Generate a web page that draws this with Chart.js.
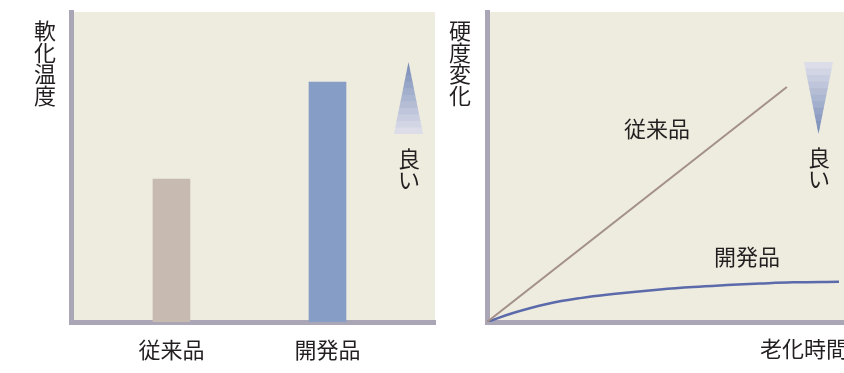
<!DOCTYPE html>
<html>
<head>
    <meta charset="utf-8" />
    <title>軟化温度・硬度変化</title>
    <script src="https://cdn.jsdelivr.net/npm/chart.js"></script>
    <style>
        html, body { margin: 0; padding: 0; background: #ffffff; }
        #wrap { position: relative; width: 844px; height: 373px; overflow: hidden; }
        #left { position: absolute; left: 0; top: 0; }
        #right { position: absolute; left: 440px; top: 0; }
    </style>
</head>
<body>
    <div id="wrap">
        <canvas id="left" width="440" height="373"></canvas>
        <canvas id="right" width="404" height="373"></canvas>
    </div>

    <script>
        // left: softening temperature bars
        const barCategories = ['従来品', '開発品'];
        const barPositions = [1, 2];
        const barValues = [46.1, 77.4];
        const barColors = ['#c7bbb1', '#869dc6'];

        // right: hardness change over ageing time
        const conventionalX = [0, 8.4];
        const conventionalY = [0, 75.8];
        const developedX = [0, 0.73, 1.68, 2.61, 3.53, 4.85, 5.77, 6.72, 7.65, 8.57, 9.86];
        const developedY = [0, 2.9, 5.8, 7.7, 9.0, 10.5, 11.3, 11.9, 12.4, 12.8, 13.0];

        const FONT = '"Noto Sans CJK JP", "Noto Sans", sans-serif';
        const TEXT = '#231f20';
        const BG = '#eeebdf';
        const AXIS = '#aaa6b6';
        const SIZE = 22;

        Chart.defaults.font.family = FONT;
        Chart.defaults.color = TEXT;

        function vtext(ctx, chars, x, y0, pitch) {
            ctx.save();
            ctx.font = SIZE + 'px ' + FONT;
            ctx.fillStyle = TEXT;
            ctx.textAlign = 'center';
            ctx.textBaseline = 'middle';
            chars.forEach((c, i) => ctx.fillText(c, x, y0 + i * pitch));
            ctx.restore();
        }

        // stepped blue wedge used as the "better" marker
        function wedge(ctx, cx, top, bottom, half, up) {
            const steps = 11;
            const dark = [122, 142, 184], light = [220, 221, 233];
            ctx.save();
            ctx.beginPath();
            if (up) {
                ctx.moveTo(cx, top); ctx.lineTo(cx + half, bottom); ctx.lineTo(cx - half, bottom);
            } else {
                ctx.moveTo(cx - half, top); ctx.lineTo(cx + half, top); ctx.lineTo(cx, bottom);
            }
            ctx.closePath();
            ctx.clip();
            const h = (bottom - top) / steps;
            for (let i = 0; i < steps; i++) {
                let t = i / (steps - 1);
                if (!up) t = 1 - t;
                const c = dark.map((d, k) => Math.round(d + (light[k] - d) * t));
                ctx.fillStyle = 'rgb(' + c.join(',') + ')';
                ctx.fillRect(cx - half - 1, top + i * h, half * 2 + 2, h + 1);
            }
            ctx.restore();
        }

        const background = {
            id: 'background',
            beforeDraw(chart) {
                const { ctx, chartArea: a } = chart;
                ctx.save();
                ctx.fillStyle = BG;
                ctx.fillRect(a.left, a.top, a.right - a.left, a.bottom - a.top);
                ctx.restore();
            }
        };

        const yAxis = {
            type: 'linear', min: 0, max: 100,
            ticks: { display: false },
            grid: { display: false, drawTicks: false },
            border: { display: true, width: 5, color: AXIS },
            afterFit(s) { s.width = 0; }
        };

        new Chart(document.getElementById('left'), {
            type: 'bar',
            data: {
                datasets: [{
                    data: barPositions.map((x, i) => ({ x: x, y: barValues[i] })),
                    backgroundColor: barColors,
                    barThickness: 37
                }]
            },
            options: {
                responsive: false,
                devicePixelRatio: 1,
                animation: false,
                layout: { padding: { left: 71, top: 12, right: 5, bottom: 0 } },
                plugins: { legend: { display: false }, tooltip: { enabled: false } },
                scales: {
                    x: {
                        type: 'linear', min: 0.356, max: 2.689, offset: false,
                        grid: { display: false, drawTicks: false },
                        border: { display: true, width: 5, color: AXIS },
                        ticks: {
                            padding: 14,
                            font: { size: SIZE },
                            color: TEXT,
                            callback: v => barCategories[v - 1] || ''
                        },
                        afterBuildTicks(s) { s.ticks = barPositions.map(v => ({ value: v })); },
                        afterFit(s) { s.height = 51; }
                    },
                    y: yAxis
                }
            },
            plugins: [background, {
                id: 'leftNotes',
                afterDraw(chart) {
                    const ctx = chart.ctx;
                    vtext(ctx, ['軟', '化', '温', '度'], 45, 31, 21.5);
                    wedge(ctx, 408.5, 62, 134, 14.5, true);
                    vtext(ctx, ['良', 'い'], 409, 159, 21);
                }
            }]
        });

        new Chart(document.getElementById('right'), {
            type: 'line',
            data: {
                datasets: [{
                    label: '従来品',
                    data: conventionalX.map((x, i) => ({ x: x, y: conventionalY[i] })),
                    borderColor: '#a39189',
                    borderWidth: 2,
                    pointRadius: 0
                }, {
                    label: '開発品',
                    data: developedX.map((x, i) => ({ x: x, y: developedY[i] })),
                    borderColor: '#5b6aaa',
                    borderWidth: 2.5,
                    pointRadius: 0,
                    tension: 0.4
                }]
            },
            options: {
                responsive: false,
                devicePixelRatio: 1,
                animation: false,
                layout: { padding: { left: 47, top: 12, right: 0, bottom: 0 } },
                plugins: { legend: { display: false }, tooltip: { enabled: false } },
                scales: {
                    x: {
                        type: 'linear', min: 0, max: 10,
                        ticks: { display: false },
                        grid: { display: false, drawTicks: false },
                        border: { display: true, width: 5, color: AXIS },
                        afterFit(s) { s.height = 51; }
                    },
                    y: yAxis
                }
            },
            plugins: [background, {
                id: 'rightNotes',
                afterDraw(chart) {
                    const { ctx, scales: { x, y } } = chart;
                    vtext(ctx, ['硬', '度', '変', '化'], 20, 31, 21.5);
                    ctx.save();
                    ctx.font = SIZE + 'px ' + FONT;
                    ctx.fillStyle = TEXT;
                    ctx.textAlign = 'center';
                    ctx.textBaseline = 'middle';
                    ctx.fillText('従来品', x.getPixelForValue(4.76), y.getPixelForValue(62.3));
                    ctx.fillText('開発品', x.getPixelForValue(7.28), y.getPixelForValue(21));
                    ctx.textAlign = 'left';
                    ctx.fillText('老化時間', 320, 349);
                    ctx.restore();
                    wedge(ctx, 378.5, 62, 134, 14.5, false);
                    vtext(ctx, ['良', 'い'], 379, 158, 21);
                }
            }]
        });
    </script>
</body>
</html>
